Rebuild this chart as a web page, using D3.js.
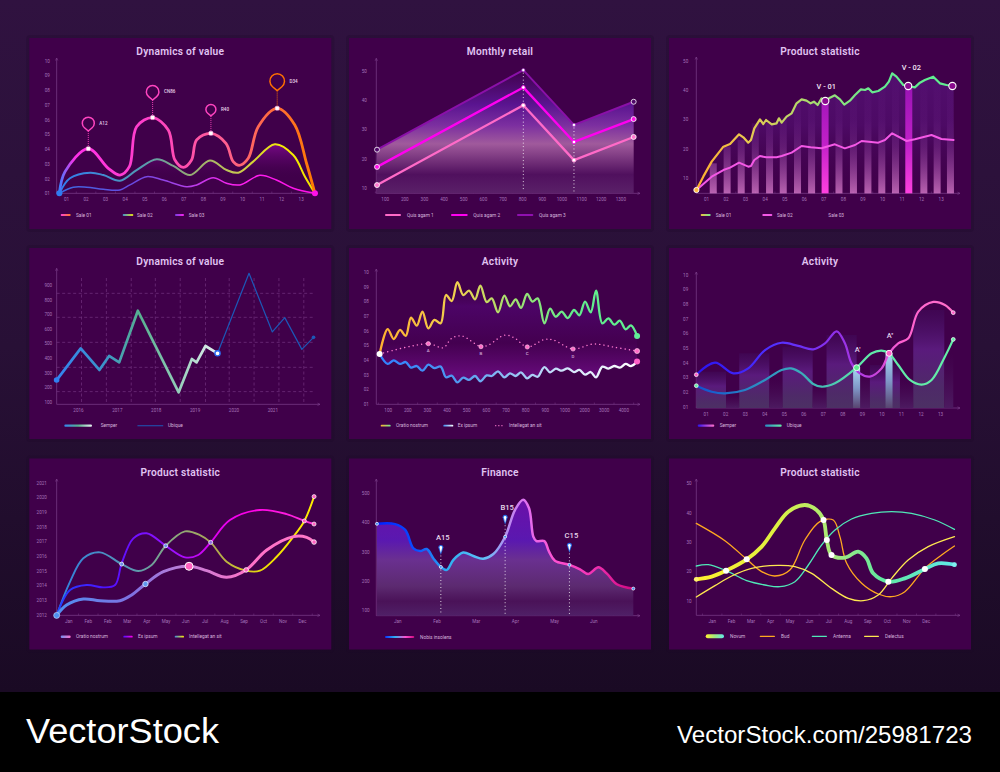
<!DOCTYPE html>
<html>
<head>
<meta charset="utf-8">
<title>Chart set</title>
<script src="https://d3js.org/d3.v7.min.js"></script>
<style>
  html, body { margin: 0; padding: 0; background: #000; }
  svg { display: block; }
</style>
</head>
<body>
<script>
// ---- data ----
const twoDigit = ['01','02','03','04','05','06','07','08','09','10','11','12','13'];

// Dynamics of value (curves)
const a1x = [0.66,0.95,2.14,3.16,3.76,4.24,4.61,5.43,6.23,6.57,7,7.42,7.68,8.41,9.18,9.55,9.86,10.32,10.83,11.8,12.7,13.3,13.73];
const a1y = [1,2.47,4.03,2.7,2.24,2.81,5.52,6.14,5.3,3.26,2.76,3.26,4.62,5.07,4.39,3.15,2.9,3.38,5.52,6.77,5.64,3.04,1];
const a2x = [0.66,1.2,2.23,2.91,3.76,4.61,5.64,6.49,7.34,8.36,9.21,9.81,10.57,11.68,12.62,13.22,13.73];
const a2y = [1,2.02,2.4,2.24,1.86,2.58,3.31,2.86,2.24,3.22,2.58,2.4,3.15,4.33,3.6,2.13,1];
const a3x = [0.66,1.37,2.06,2.91,3.76,4.27,5.12,5.97,7.17,7.68,8.53,9.21,9.89,10.91,11.76,12.62,13.73];
const a3y = [1,1.41,1.41,1.27,1.23,1.57,2.13,1.9,1.45,1.57,2.06,1.68,1.57,2.22,1.9,1.34,1];
const aPinIndex = [2,7,13,19];
const aPinTip = [5.23,7.33,6.25,7.97];
const aPinLabels = ['A12','CN86','R40','D34'];

// Monthly retail
const bTicks = [100,200,300,400,500,600,700,800,900,1000,1100,1200,1300];
const bx = [61,806,1064,1368];
const b1 = [11,38.2,19.5,27.4];
const b2 = [17.2,44.3,25.7,33.5];
const b3 = [23.07,50.2,31.5,39.4];

// Product statistic (jagged)
const c1x = [0.51,0.86,1.29,1.89,2.23,2.69,2.91,3.16,3.3,3.47,3.76,3.93,4.07,4.36,4.61,4.73,4.87,5.12,5.38,5.63,5.89,6.14,6.35,6.52,6.71,6.91,7.1,7.34,7.59,7.85,8.07,8.36,8.62,8.92,9.13,9.3,9.5,9.81,10.15,10.35,10.52,10.74,11.09,11.34,11.68,11.94,12.19,12.62,12.96,13.3,13.66];
const c1y = [6.03,10.57,15.67,20.76,21.67,24.96,23.94,22.12,23.03,27,30.06,28.47,29.83,28.36,28.7,30.4,28.92,30.96,32.1,35.5,36.86,36.4,35.5,36.06,34.93,37.2,36.29,37.42,38.22,36.86,35.04,36.4,38.33,40.25,40.03,40.6,39.24,39.69,41.16,42.86,45.69,44.56,41.73,41.39,40.93,42.52,43.43,44.56,42.3,41.73,41.39];
const c2x = [0.51,1.29,1.89,2.23,2.69,3.16,3.3,3.47,3.76,4.07,4.61,4.87,5.38,5.89,6.35,6.91,7.59,8.1,8.62,8.96,9.81,10.15,10.52,11.26,11.68,12.53,13.04,13.66];
const c2y = [6.03,10.57,12.83,13.63,15.33,13.97,14.19,16.23,17.59,17.14,17.14,17.59,18.73,20.99,20.54,20.2,21.56,20.2,21.33,22.69,22.12,23.03,25.3,22.69,23.26,24.73,23.37,23.03];
const cBarX = [1.37,2.08,2.8,3.52,4.25,4.95,5.68,6.4,7.09,7.8,8.54,9.28,9.99,10.69,11.37,12.14,12.82,13.5];
const cBarTop = [15.1,20.8,23,28.7,28.7,31,36.6,36,36.6,37.2,37.8,40.3,40,43.4,41.2,43.4,42.3,41.7];
const cHighlight = [8,14];

// Dynamics of value (lines)
const dYears = [2016,2017,2018,2019,2020,2021];
const dx1 = [2015.45,2016.07,2016.55,2016.8,2017.06,2017.54,2018.59,2018.93,2019.05,2019.28,2019.59];
const dy1 = [250,467,319,415,371,724,166,394,371,483,433];
const dx2 = [2019.59,2020.4,2021,2021.32,2021.76,2022.06];
const dy2 = [433,980,579,677,460,542];
const dGridX = [2016.09,2016.73,2017.37,2017.99,2018.63,2019.28,2019.89,2020.53,2021.17,2021.81];
const dGridY = [843,679,508,337,171];

// Activity (wiggles)
const eLabels = ['100','200','300','400','500','600','700','800','900','1000','2000','3000','4000'];
const ex = [0.59,1,1.31,1.63,1.92,2.19,2.48,2.77,3.07,3.38,3.7,3.97,4.26,4.55,4.85,5.14,5.45,5.72,6.04,6.3,6.62,6.94,7.23,7.52,7.79,8.1,8.37,8.64,8.98,9.27,9.56,9.86,10.17,10.49,10.76,11.05,11.34,11.61,11.93,12.24,12.54,12.82,13.12,13.39,13.7];
const e1 = [4.41,6.11,5.43,6.05,5.64,6.89,6.34,7.3,6.16,6.73,6.5,8.43,8.02,9.3,8.43,8.73,8.14,9.07,7.95,8.2,7.25,8.39,7.66,8.14,7.55,8.5,7.98,8.2,6.5,7.5,6.95,7.3,6.86,7.41,7.05,7.98,7.25,8.73,6.5,6.84,6.41,6.68,6.09,6.36,5.64];
const e2 = [4.41,3.73,3.98,3.73,3.86,3.48,3.59,3.27,3.68,3.45,3.55,2.82,2.93,2.48,2.8,2.64,2.91,2.55,2.95,2.91,3.23,2.82,3.09,2.91,3.16,2.75,2.98,2.86,3.52,3.16,3.41,3.27,3.43,3.18,3.32,3,3.18,2.82,3.55,3.41,3.59,3.48,3.73,3.59,3.89];
const e3x = [0.59,3.07,3.83,4.26,4.77,5.75,6.13,6.97,7.48,8.11,9.01,9.44,10.44,11.48,12.59,13.7];
const e3y = [4.41,5.11,4.84,5.48,5.64,4.91,5.02,5.7,5.48,4.89,5.41,5.36,4.75,5.09,4.86,4.61];
const eMarkIndex = [1,5,9,12];
const eMarkLabels = ['A','B','C','D'];

// Activity (smooth with columns)
const f1x = [0.52,1.48,2.42,3.18,4.04,4.89,5.74,6.51,7.11,7.71,8.13,8.47,8.9,9.41,10.01,10.39,10.86,11.38,11.89,12.66,13.25,13.68];
const f1y = [3.18,4,3.27,3.61,4.86,5.36,5.14,4.91,5.32,6.14,5.32,3.95,3.27,3.05,3.61,4.64,5.32,5.66,7.48,8.14,7.93,7.41];
const f2x = [0.52,1.31,1.99,3.01,4.04,4.89,5.37,5.92,6.51,6.94,7.62,8.73,9.5,10.01,10.39,10.86,11.46,12.06,12.57,13.25,13.68];
const f2y = [2.43,2.02,1.91,2.14,2.82,3.5,3.61,3.27,2.55,2.36,2.59,3.66,4.64,4.82,4.64,3.84,2.82,2.5,2.82,4.41,5.59];
const fEdges = [0.52,2.04,2.72,4.26,4.94,6.48,7.19,8.73,9.41,10.95,11.63,13.22,13.68];
const fHeights = [3.39,1.8,4.64,2.82,5.09,2.36,5.89,3.16,3.84,2.82,7.59,4.64];
const fHighX = [8.73,10.39];
const fHighY = [3.66,4.64];
const fHighLabels = ["A'","A''"];
const fHighLabelY = [4.74,5.7];

// Product statistic (three curves)
const gMonths = ['Jan','Feb','Feb','Mar','Apr','May','Jun','Jul','Aug','Sep','Oct','Nov','Dec'];
const gYears = [2012,2013,2014,2015,2016,2017,2018,2019,2020,2021];
const g1x = [0.4,0.91,1.77,2.63,3.65,4.25,4.96,5.88,7.2,8.11,9.13,10.13,11.19,12.56,13.24,13.62];
const g1y = [2011.95,2012.66,2013.07,2012.95,2012.95,2013.34,2014.09,2014.93,2015.3,2015,2014.55,2015.05,2016.41,2017.32,2017.27,2016.95];
const g2x = [0.4,1.09,1.94,2.8,3.4,3.74,4.34,5.02,6,6.99,7.67,8.31,9.3,10.84,12.21,13.12,13.62];
const g2y = [2011.95,2013.68,2014.02,2013.86,2014.02,2015.5,2017.2,2017.55,2016.7,2015.91,2016.07,2016.93,2018.45,2019.14,2018.86,2018.39,2018.18];
const g3x = [0.4,1.09,1.77,2.63,3.74,4.6,5.28,6,6.99,7.76,8.31,9.13,10.13,10.84,11.7,12.56,13.12,13.62];
const g3y = [2011.95,2014.25,2015.84,2016.25,2015.45,2014.98,2015.39,2016.7,2017.68,2017.43,2016.93,2015.61,2015,2015,2015.95,2017.32,2018.39,2020.05];

// Finance
const hMonths = ['Jan','Feb','Mar','Apr','May','Jun'];
const hx = [0.48,0.94,1.2,1.41,1.58,1.75,1.92,2.11,2.26,2.43,2.68,2.94,3.19,3.45,3.75,4,4.21,4.36,4.47,4.55,4.75,4.87,5.02,5.39,5.66,5.87,6.13,6.34,6.6,7.02];
const hy = [395,394,374,311,302,309,277,248,238,272,297,285,276,292,351,442,477,448,351,336,336,300,269,255,240,224,247,226,189,174];
const hPinIndex = [7,14,23];
const hPinLabels = ['A15','B15','C15'];

// Product statistic (four curves)
const iMonths = ['Jan','Feb','Mar','Apr','May','Jun','Jul','Aug','Sep','Oct','Nov','Dec'];
const i1x = [0.21,1,1.74,2.8,3.57,4.25,4.94,5.79,6.39,6.75,6.92,7.16,7.85,8.53,8.96,9.3,10.08,10.93,11.96,12.64,13.48];
const i1y = [17.27,18.18,20.23,24.09,28.41,34.66,40.34,42.61,40.91,37.5,30.68,25.57,24.66,26.7,24.43,19.32,16.48,17.61,20.8,22.73,22.27];
const i2x = [0.21,1.68,2.8,3.57,4.25,5.02,5.79,6.56,7.25,7.59,7.94,8.71,9.56,10.25,10.93,11.96,12.82,13.48];
const i2y = [36.36,30.45,24.09,19.89,18.41,20.45,30.68,36.93,37.5,31.82,22.73,15.91,12.27,11.36,13.07,21.02,25.57,28.64];
const i3x = [0.21,0.83,1.74,2.8,3.74,4.51,5.28,5.97,6.65,7.34,8.19,9.22,10.25,11.27,12.47,13.48];
const i3y = [21.82,22.27,20.23,16.82,15.34,14.77,16.48,22.16,28.98,34.09,37.84,39.77,40.34,39.77,37.5,34.32];
const i4x = [0.21,1.17,2.03,3.05,4.42,5.28,6.14,7.16,8.02,8.79,9.56,10.25,11.1,12.13,13.48];
const i4y = [11.25,15.11,18.41,21.02,22.05,21.59,19.32,14.2,10.8,10,11.93,17.61,23.86,28.41,31.82];
const iMarkIndex = [2,3,9,10,11,16,18];

// ---- drawing helpers ----
const W = 1000, H = 772;
const svg = d3.select('body').append('svg').attr('width', W).attr('height', H).attr('viewBox', `0 0 ${W} ${H}`);
const defs = svg.append('defs');
const uiFont = 'Roboto, sans-serif';
const smooth = d3.curveCatmullRom.alpha(0.5);
let gradCount = 0;

function grad(stops, x1, y1, x2, y2) {
  const id = 'g' + (gradCount++);
  const g = defs.append('linearGradient').attr('id', id)
    .attr('gradientUnits', 'userSpaceOnUse')
    .attr('x1', x1).attr('y1', y1).attr('x2', x2).attr('y2', y2);
  stops.forEach(s => g.append('stop').attr('offset', s[0]).attr('stop-color', s[1]).attr('stop-opacity', s[2] === undefined ? 1 : s[2]));
  return `url(#${id})`;
}

// page background
svg.append('rect').attr('width', W).attr('height', H)
  .attr('fill', grad([[0, '#301240'], [0.5, '#281036'], [1, '#1a0a24']], 0, 0, 0, 692));
svg.append('rect').attr('y', 692).attr('width', W).attr('height', 80).attr('fill', '#000');

function panel(o) {
  const g = svg.append('g');
  g.append('rect').attr('x', o.px - 3).attr('y', o.py - 3).attr('width', 308).attr('height', 197).attr('rx', 4)
    .attr('fill', '#1a0626').attr('opacity', 0.25);
  g.append('rect').attr('x', o.px).attr('y', o.py).attr('width', 302).attr('height', 191).attr('fill', '#40004a');
  g.append('text').attr('x', o.px + 151).attr('y', o.py + 17).attr('text-anchor', 'middle')
    .attr('font-family', uiFont).attr('font-weight', 600).attr('font-size', 10.2).attr('letter-spacing', 0.25)
    .attr('fill', '#e0c4f2').text(o.title);

  const x = d3.scaleLinear().domain(o.xDomain).range(o.xRange);
  const y = d3.scaleLinear().domain(o.yDomain).range(o.yRange);

  // axes
  const axisG = g.append('g');
  const yAxis = axisG.append('g').attr('transform', `translate(${o.labelX},0)`)
    .call(d3.axisLeft(y).tickValues(o.yTicks).tickSize(0).tickPadding(0).tickFormat(o.yFormat || (d => d)));
  yAxis.select('.domain').remove();
  yAxis.selectAll('text').attr('text-anchor', 'middle');
  const xAxis = axisG.append('g').attr('transform', `translate(0,${o.labelY})`)
    .call(d3.axisBottom(x).tickValues(o.xTicks).tickSize(0).tickPadding(0).tickFormat(o.xFormat));
  xAxis.select('.domain').remove();
  axisG.selectAll('text').attr('font-family', uiFont).attr('font-size', 4.6).attr('fill', '#a472b8').attr('dy', '0.32em');

  axisG.append('line').attr('x1', o.axisX).attr('x2', o.axisX).attr('y1', o.axisTop).attr('y2', o.axisY)
    .attr('stroke', '#7c3f8c').attr('stroke-width', 0.7);
  axisG.append('line').attr('x1', o.axisX).attr('x2', o.axisRight).attr('y1', o.axisY).attr('y2', o.axisY)
    .attr('stroke', '#7c3f8c').attr('stroke-width', 0.7);
  axisG.append('path').attr('d', `M${o.axisX - 1.2},${o.axisTop + 2.5}L${o.axisX},${o.axisTop}L${o.axisX + 1.2},${o.axisTop + 2.5}`)
    .attr('fill', 'none').attr('stroke', '#7c3f8c').attr('stroke-width', 0.6);
  axisG.append('path').attr('d', `M${o.axisRight - 2.5},${o.axisY - 1.2}L${o.axisRight},${o.axisY}L${o.axisRight - 2.5},${o.axisY + 1.2}`)
    .attr('fill', 'none').attr('stroke', '#7c3f8c').attr('stroke-width', 0.6);

  // small ticks on the baseline, between the labels
  const minor = g.append('g').attr('transform', `translate(0,${o.axisY})`)
    .call(d3.axisBottom(x).tickValues(o.minorTicks).tickSize(-1.8).tickFormat(''));
  minor.select('.domain').remove();
  minor.selectAll('line').attr('stroke', '#7c3f8c').attr('stroke-width', 0.5);

  const plot = g.append('g');

  function curve(xs, ys, kind) {
    return d3.line().x(d => x(d[0])).y(d => y(d[1])).curve(kind || smooth)(d3.zip(xs, ys));
  }
  function areaTo(xs, ys, base, kind) {
    return d3.area().x(d => x(d[0])).y0(base).y1(d => y(d[1])).curve(kind || smooth)(d3.zip(xs, ys));
  }
  function stroke(d, color, width) {
    return plot.append('path').attr('d', d).attr('fill', 'none').attr('stroke', color)
      .attr('stroke-width', width).attr('stroke-linecap', 'round').attr('stroke-linejoin', 'round');
  }
  function dot(cx, cy, r, fill, ring, ringWidth) {
    return plot.append('circle').attr('cx', x(cx)).attr('cy', y(cy)).attr('r', r)
      .attr('fill', fill).attr('stroke', ring || 'none').attr('stroke-width', ringWidth || 0);
  }
  function dotted(cx, fromY, toY) {
    return plot.append('line').attr('x1', x(cx)).attr('x2', x(cx)).attr('y1', fromY).attr('y2', toY)
      .attr('stroke', '#fff').attr('stroke-width', 0.9).attr('stroke-linecap', 'round').attr('stroke-dasharray', '0.1 3.4');
  }
  function note(tx, ty, text, size, fill, anchor) {
    return plot.append('text').attr('x', tx).attr('y', ty).attr('text-anchor', anchor || 'middle')
      .attr('font-family', uiFont).attr('font-size', size).attr('font-weight', 500)
      .attr('fill', fill || '#ecd8f0').text(text);
  }
  function legend(ly, items) {
    items.forEach(it => {
      if (it.dots) {
        g.append('line').attr('x1', it.x1).attr('x2', it.x2).attr('y1', ly).attr('y2', ly)
          .attr('stroke', it.color).attr('stroke-width', 1.2).attr('stroke-linecap', 'round').attr('stroke-dasharray', '0.1 3');
      } else if (it.x1 !== undefined) {
        const paint = it.stops ? grad(it.stops, it.x1, 0, it.x2, 0) : it.color;
        g.append('rect').attr('x', it.x1).attr('y', ly - (it.w || 1.8) / 2).attr('width', it.x2 - it.x1).attr('height', it.w || 1.8)
          .attr('rx', (it.w || 1.8) / 2).attr('fill', paint);
      }
      g.append('text').attr('x', it.tx).attr('y', ly + 1.6).attr('font-family', uiFont).attr('font-size', 4.8)
        .attr('fill', '#d6b4dc').text(it.label);
    });
  }
  return { g, plot, x, y, curve, areaTo, stroke, dot, dotted, note, legend };
}

const halfTicks = (a, b) => d3.range(a, b + 0.1, 1);

// ---- 1. Dynamics of value ----
(function () {
  const p = panel({ px: 29.3, py: 38, title: 'Dynamics of value',
    xDomain: [1, 13], xRange: [66, 300.67], yDomain: [1, 10], yRange: [193.33, 60.67],
    xTicks: d3.range(1, 14), xFormat: (d, i) => twoDigit[i], minorTicks: halfTicks(0.5, 13.5),
    yTicks: d3.range(1, 11), yFormat: d => (d < 10 ? '0' + d : d),
    labelX: 47.3, labelY: 200, axisX: 56.67, axisY: 193.33, axisTop: 58, axisRight: 315 });
  const xa = p.x(0.66), xb = p.x(13.73);
  p.plot.append('path').attr('d', p.areaTo(a2x, a2y, p.y(1)))
    .attr('fill', grad([[0, '#7d0a8c', 0.95], [0.55, '#5a0468', 0.5], [1, '#40004a', 0]], 0, p.y(4.4), 0, p.y(2)));
  p.stroke(p.curve(a3x, a3y), grad([[0, '#3a6ae0'], [0.3, '#6a48e0'], [0.5, '#b040e8'], [0.7, '#ff20f0'], [1, '#ff10e8']], xa, 0, xb, 0), 1.5);
  p.stroke(p.curve(a2x, a2y), grad([[0, '#2f7bf0'], [0.3, '#4f98b8'], [0.5, '#90a878'], [0.7, '#c8c850'], [0.88, '#f6ee00'], [1, '#f0e000']], xa, 0, xb, 0), 2);
  p.stroke(p.curve(a1x, a1y), grad([[0, '#3f7bff'], [0.06, '#ff30e8'], [0.35, '#ff40c8'], [0.65, '#ff5f90'], [0.82, '#ff6a40'], [1, '#ff7a00']], xa, 0, xb, 0), 2.8);
  p.dot(0.66, 1, 3, '#2f7bf0');
  p.dot(13.73, 1, 3, '#ff10e8');
  const radii = [6, 6.3, 5, 7.3];
  aPinIndex.forEach((k, i) => {
    const cx = p.x(a1x[k]), tip = p.y(aPinTip[i]), r = radii[i];
    const color = i === 3 ? '#ff7000' : '#ff44c0';
    const cy = tip - r * 1.3;
    const a = Math.acos(r / (r * 1.3));
    const dx = r * Math.sin(a), dy = r * Math.cos(a);
    p.plot.append('path').attr('d', `M${cx},${tip}L${cx - dx},${cy + dy}A${r},${r} 0 1 1 ${cx + dx},${cy + dy}Z`)
      .attr('fill', 'none').attr('stroke', color).attr('stroke-width', 1.5).attr('stroke-linejoin', 'round');
    p.plot.append('line').attr('x1', cx).attr('x2', cx).attr('y1', tip).attr('y2', p.y(a1y[k]))
      .attr('stroke', color).attr('stroke-width', 0.9).attr('stroke-dasharray', '1 1');
    p.plot.append('rect').attr('x', cx - 2).attr('y', p.y(a1y[k]) - 2).attr('width', 4).attr('height', 4).attr('rx', 1)
      .attr('fill', '#fff').attr('stroke', '#ff9ad8').attr('stroke-width', 0.5);
    p.note(cx + r + 5, cy + 1.6, aPinLabels[i], 4.6, '#e6cfe8', 'start');
  });
  p.legend(215, [
    { x1: 60.7, x2: 70.7, stops: [[0, '#ff40d8'], [1, '#ff7a20']], tx: 76, label: 'Sale 01' },
    { x1: 122.7, x2: 133.3, stops: [[0, '#3f8fd0'], [1, '#e8e010']], tx: 137, label: 'Sale 02' },
    { x1: 175, x2: 184, stops: [[0, '#7040e0'], [1, '#ff20f0']], tx: 188.7, label: 'Sale 03' }
  ]);
})();

// ---- 2. Monthly retail ----
(function () {
  const p = panel({ px: 349, py: 38, title: 'Monthly retail',
    xDomain: [100, 1300], xRange: [384.67, 620.33], yDomain: [10, 50], yRange: [188, 70.67],
    xTicks: bTicks, xFormat: d => d, minorTicks: d3.range(50, 1400, 100),
    yTicks: [10, 20, 30, 40, 50],
    labelX: 364.3, labelY: 200, axisX: 376.3, axisY: 193.33, axisTop: 58.3, axisRight: 640 });
  p.plot.append('path').attr('d', p.areaTo(bx, b3, 193.33, d3.curveLinear))
    .attr('fill', grad([[0, '#40004a'], [0.28, '#5a1490'], [0.45, '#7c2fa0'], [0.6, '#a05a9c'], [0.85, '#50105e'], [1, '#5a2068']], 0, 70, 0, 193));
  p.stroke(p.curve(bx, b3, d3.curveLinear), '#8a10a8', 2);
  p.stroke(p.curve(bx, b1, d3.curveLinear), '#ff6ac8', 2.3);
  p.stroke(p.curve(bx, b2, d3.curveLinear), '#ff00f0', 2.3);
  p.dotted(806, p.y(50.2) + 3, 192);
  p.dotted(1064, p.y(31.5) + 3, 192);
  p.dot(61, b3[0], 2.5, '#50086a', '#fff', 0.8);
  p.dot(1368, b3[3], 2.5, '#50086a', '#fff', 0.8);
  p.dot(61, b2[0], 2.5, '#ff10e8', '#fff', 0.8);
  p.dot(1368, b2[3], 2.5, '#ff10e8', '#fff', 0.8);
  p.dot(61, b1[0], 2.5, '#ff78d0', '#fff', 0.8);
  p.dot(1368, b1[3], 2.5, '#ff78d0', '#fff', 0.8);
  [1, 2].forEach(k => {
    p.dot(bx[k], b3[k], 1.6, '#fff', '#9a20c0', 0.6);
    p.dot(bx[k], b2[k], 1.8, '#fff', '#ff00f0', 0.8);
    p.dot(bx[k], b1[k], 1.9, '#fff', '#ff88d4', 0.9);
  });
  p.legend(215, [
    { x1: 385, x2: 401, color: '#ff6ac8', tx: 407, label: 'Quis agam 1' },
    { x1: 451, x2: 467.7, color: '#ff00f0', tx: 473.3, label: 'Quis agam 2' },
    { x1: 517, x2: 533.3, color: '#9010b0', tx: 539, label: 'Quis agam 3' }
  ]);
})();

// ---- 3. Product statistic ----
(function () {
  const p = panel({ px: 669, py: 38, title: 'Product statistic',
    xDomain: [1, 13], xRange: [706, 940.67], yDomain: [10, 50], yRange: [178.33, 60.67],
    xTicks: d3.range(1, 14), xFormat: (d, i) => twoDigit[i], minorTicks: halfTicks(0.5, 13.5),
    yTicks: [10, 20, 30, 40, 50],
    labelX: 685.7, labelY: 200, axisX: 696.3, axisY: 193.33, axisTop: 57, axisRight: 960 });
  const base = 193.33;
  p.plot.append('path').attr('d', p.areaTo(c1x, c1y, base, d3.curveLinear))
    .attr('fill', grad([[0, '#5e1888', 0.6], [0.45, '#5a1480', 0.5], [1, '#40004a', 0.1]], 0, 70, 0, base));
  const barGrad = grad([[0, '#8a3aa8', 0], [0.4, '#8a3aa8', 0.1], [0.62, '#a04cb0', 0.3], [1, '#e888d8', 0.72]], 0, 70, 0, base);
  const hiGrad = grad([[0, '#9010b0'], [0.6, '#c020c8'], [1, '#ff40e0']], 0, 70, 0, base);
  p.plot.selectAll('rect.bar').data(cBarX).enter().append('rect').attr('class', 'bar')
    .attr('x', d => p.x(d) - 3.5).attr('width', 7)
    .attr('y', (d, i) => p.y(cBarTop[i])).attr('height', (d, i) => base - p.y(cBarTop[i]))
    .attr('fill', (d, i) => cHighlight.includes(i) ? hiGrad : barGrad);
  p.stroke(p.curve(c2x, c2y, d3.curveLinear), '#f458e6', 2);
  p.stroke(p.curve(c1x, c1y, d3.curveLinear), grad([[0, '#ffb030'], [0.2, '#e8c850'], [0.45, '#a8dc70'], [0.7, '#64ea90'], [1, '#60ee90']], p.x(0.51), 0, p.x(13.66), 0), 2.2);
  p.dot(0.51, 6.03, 2.6, '#ffb840', '#fff', 0.9);
  p.dot(c1x[26], c1y[26], 3.6, '#8a0a8e', '#fff', 1.1);
  p.dot(11.34, 41.39, 3.6, '#8a0a8e', '#fff', 1.1);
  p.dot(13.6, 41.39, 3.6, '#8a0a8e', '#fff', 1.1);
  p.note(p.x(7.1) + 1, 89, 'V - 01', 7.4, '#f2e4f4');
  p.note(p.x(11.5), 70, 'V - 02', 7.4, '#f2e4f4');
  p.legend(215, [
    { x1: 700.7, x2: 710.7, stops: [[0, '#f0c040'], [1, '#70e890']], tx: 715.7, label: 'Sale 01' },
    { x1: 762.3, x2: 772.3, color: '#f458e6', tx: 777, label: 'Sale 02' },
    { tx: 828.3, label: 'Sale 03' }
  ]);
})();

// ---- 4. Dynamics of value (lines) ----
(function () {
  const p = panel({ px: 29.3, py: 248, title: 'Dynamics of value',
    xDomain: [2016, 2021], xRange: [78, 272.33], yDomain: [100, 900], yRange: [402, 285],
    xTicks: dYears, xFormat: d => d, minorTicks: [],
    yTicks: d3.range(100, 901, 100),
    labelX: 48.3, labelY: 410.7, axisX: 56.67, axisY: 404.33, axisTop: 268.3, axisRight: 320 });
  const dash = g => g.attr('stroke', '#7c3a8a').attr('stroke-width', 0.6).attr('stroke-dasharray', '3 2.5');
  p.plot.selectAll('line.gx').data(dGridX).enter().append('line').attr('class', 'gx')
    .attr('x1', d => p.x(d)).attr('x2', d => p.x(d)).attr('y1', 278).attr('y2', 404.33).call(dash);
  p.plot.selectAll('line.gy').data(dGridY).enter().append('line').attr('class', 'gy')
    .attr('x1', 56.67).attr('x2', 315).attr('y1', d => p.y(d)).attr('y2', d => p.y(d)).call(dash);
  p.stroke(p.curve(dx2, dy2, d3.curveLinear), '#1c58b8', 1.2);
  p.stroke(p.curve(dx1, dy1, d3.curveLinear), grad([[0, '#3484f0'], [0.3, '#3c94c8'], [0.52, '#58b090'], [0.75, '#92ccb8'], [1, '#e8f2f2']], p.x(dx1[0]), 0, p.x(2019.59), 0), 2.7);
  p.dot(dx1[0], dy1[0], 2.8, '#3080f0');
  p.dot(2019.59, 433, 2.6, '#fff', '#2a68f0', 1.4);
  p.dot(2022.06, 542, 1.8, '#1c58b8');
  p.legend(425.7, [
    { x1: 64.3, x2: 92, w: 2.2, stops: [[0, '#3484f0'], [0.5, '#58b090'], [1, '#e8f2f2']], tx: 100.7, label: 'Semper' },
    { x1: 137.3, x2: 163.3, w: 1, color: '#1c58b8', tx: 168, label: 'Ubique' }
  ]);
})();

// ---- 5. Activity ----
(function () {
  const p = panel({ px: 349, py: 248, title: 'Activity',
    xDomain: [1, 13], xRange: [387.67, 623.33], yDomain: [1, 10], yRange: [404, 272],
    xTicks: d3.range(1, 14), xFormat: (d, i) => eLabels[i], minorTicks: halfTicks(0.5, 13.5),
    yTicks: d3.range(1, 11), yFormat: d => (d < 10 ? '0' + d : d),
    labelX: 366.3, labelY: 410.7, axisX: 376.3, axisY: 404.33, axisTop: 269, axisRight: 640 });
  const band = d3.area().x(d => p.x(d[0])).y0(d => p.y(d[2])).y1(d => p.y(d[1])).curve(smooth)(d3.zip(ex, e1, e2));
  p.plot.append('path').attr('d', band)
    .attr('fill', grad([[0, '#40004a', 0], [0.25, '#4c0466'], [0.6, '#440050'], [0.9, '#640a78'], [1, '#560668']], 0, 280, 0, 385));
  const xa = p.x(0.59), xb = p.x(13.7);
  p.stroke(p.curve(e3x, e3y), '#ff7ad0', 1.4).attr('stroke-dasharray', '0.1 4.2');
  p.stroke(p.curve(ex, e2), grad([[0, '#2f80ff'], [0.3, '#4f98f0'], [0.5, '#90c0f4'], [0.75, '#d8e8fc'], [1, '#ffffff']], xa, 0, xb, 0), 2.3);
  p.stroke(p.curve(ex, e1), grad([[0, '#ffb030'], [0.3, '#f0d050'], [0.5, '#a8e070'], [0.75, '#62ec8c'], [1, '#60ee90']], xa, 0, xb, 0), 2.3);
  p.dot(ex[0], e1[0], 3, '#fff');
  p.dot(ex[44], e1[44], 3, '#62ee98');
  p.dot(ex[44], e2[44], 3, '#ff60c8');
  eMarkIndex.forEach((k, i) => {
    p.dot(e3x[k], e3y[k], 2.1, '#ff6cc8', '#ffd0ec', 0.6);
    p.note(p.x(e3x[k]), p.y(e3y[k]) + 8.5, eMarkLabels[i], 4.4, '#d0a8d8');
  });
  p.dot(e3x[15], e3y[15], 2.5, '#ff6cc8', '#ffd0ec', 0.7);
  p.legend(425.7, [
    { x1: 380.7, x2: 390.7, stops: [[0, '#ffb030'], [1, '#70e890']], tx: 396, label: 'Oratio nostrum' },
    { x1: 443.3, x2: 453.3, stops: [[0, '#3f8af0'], [1, '#ffffff']], tx: 457.7, label: 'Ex ipsum' },
    { x1: 495.7, x2: 502, dots: true, color: '#ff7ad0', tx: 509, label: 'Intellegat an sit' }
  ]);
})();

// ---- 6. Activity (columns) ----
(function () {
  const p = panel({ px: 669, py: 248, title: 'Activity',
    xDomain: [1, 13], xRange: [705.67, 940], yDomain: [1, 10], yRange: [406.67, 274.67],
    xTicks: d3.range(1, 14), xFormat: (d, i) => twoDigit[i], minorTicks: halfTicks(0.5, 13.5),
    yTicks: d3.range(1, 11), yFormat: d => (d < 10 ? '0' + d : d),
    labelX: 685.7, labelY: 414.7, axisX: 696.3, axisY: 408, axisTop: 272, axisRight: 960 });
  const base = 408;
  const tall = defs.append('linearGradient').attr('id', 'fTall').attr('x1', 0).attr('y1', 0).attr('x2', 0).attr('y2', 1);
  [[0, '#400a58', 0.6], [0.4, '#5a1a7c', 1], [0.8, '#4e2a68', 1], [1, '#4c3064', 1]].forEach(s =>
    tall.append('stop').attr('offset', s[0]).attr('stop-color', s[1]).attr('stop-opacity', s[2]));
  const low = defs.append('linearGradient').attr('id', 'fLow').attr('x1', 0).attr('y1', 0).attr('x2', 0).attr('y2', 1);
  [[0, '#40004a', 0.6], [1, '#4c1a60', 1]].forEach(s =>
    low.append('stop').attr('offset', s[0]).attr('stop-color', s[1]).attr('stop-opacity', s[2]));
  p.plot.selectAll('rect.col').data(fHeights).enter().append('rect').attr('class', 'col')
    .attr('x', (d, i) => p.x(fEdges[i])).attr('width', (d, i) => p.x(fEdges[i + 1]) - p.x(fEdges[i]))
    .attr('y', d => p.y(d)).attr('height', d => base - p.y(d))
    .attr('fill', (d, i) => i % 2 === 0 ? 'url(#fTall)' : 'url(#fLow)');
  const hi = defs.append('linearGradient').attr('id', 'fHi').attr('x1', 0).attr('y1', 0).attr('x2', 0).attr('y2', 1);
  [[0, '#a8d8f4'], [0.5, '#8098c8'], [1, '#584470']].forEach(s => hi.append('stop').attr('offset', s[0]).attr('stop-color', s[1]));
  p.plot.selectAll('rect.hi').data(fHighX).enter().append('rect').attr('class', 'hi')
    .attr('x', d => p.x(d) - 3.5).attr('width', 7)
    .attr('y', (d, i) => p.y(fHighY[i])).attr('height', (d, i) => base - p.y(fHighY[i]))
    .attr('fill', 'url(#fHi)');
  const xa = p.x(0.52), xb = p.x(13.68);
  p.stroke(p.curve(f2x, f2y), grad([[0, '#1050d0'], [0.22, '#2a88c4'], [0.45, '#3fb4b8'], [0.65, '#60e8a8'], [1, '#64eea8']], xa, 0, xb, 0), 2.2);
  p.stroke(p.curve(f1x, f1y), grad([[0, '#2a14f0'], [0.3, '#5030ff'], [0.55, '#9030e8'], [0.68, '#c040e0'], [0.8, '#ff60d0'], [1, '#ff70c8']], xa, 0, xb, 0), 2.2);
  p.dot(f1x[0], f1y[0], 1.9, '#ff60c8', '#fff', 0.7);
  p.dot(f2x[0], f2y[0], 1.9, '#64eea8', '#fff', 0.7);
  p.dot(13.68, 7.41, 1.9, '#ff60c8', '#fff', 0.7);
  p.dot(13.68, 5.59, 1.9, '#64eea8', '#fff', 0.7);
  p.dot(fHighX[0], fHighY[0], 3, '#60ee90', '#fff', 0.9);
  p.dot(fHighX[1], fHighY[1], 3, '#ff60c8', '#fff', 0.9);
  fHighX.forEach((d, i) => p.note(p.x(d) + 1, p.y(fHighLabelY[i]), fHighLabels[i], 7.4, '#e0cfe8'));
  p.legend(425.7, [
    { x1: 697.7, x2: 714.3, stops: [[0, '#2a14f0'], [0.5, '#a040e0'], [1, '#ff70c8']], w: 2.2, tx: 719.7, label: 'Semper' },
    { x1: 765, x2: 781.7, stops: [[0, '#2a88c4'], [1, '#64eea8']], w: 2.2, tx: 786.7, label: 'Ubique' }
  ]);
})();

// ---- 7. Product statistic (curves) ----
(function () {
  const p = panel({ px: 29.3, py: 458.5, title: 'Product statistic',
    xDomain: [1, 13], xRange: [68.33, 302], yDomain: [2012, 2021], yRange: [614.67, 482.67],
    xTicks: d3.range(1, 14), xFormat: (d, i) => gMonths[i], minorTicks: halfTicks(0.5, 13.5),
    yTicks: gYears,
    labelX: 41.7, labelY: 622, axisX: 56.67, axisY: 615.33, axisTop: 479, axisRight: 320 });
  const xa = p.x(0.4), xb = p.x(13.62);
  p.stroke(p.curve(g3x, g3y), grad([[0, '#2f80e0'], [0.3, '#5a98b0'], [0.45, '#88a880'], [0.62, '#b0a850'], [0.82, '#f0e000'], [1, '#ffee00']], xa, 0, xb, 0), 1.9);
  p.stroke(p.curve(g2x, g2y), grad([[0, '#2040ff'], [0.2, '#5010ff'], [0.45, '#9a10ff'], [0.62, '#e000f0'], [0.75, '#ff00e8'], [1, '#ff30d8']], xa, 0, xb, 0), 1.9);
  p.stroke(p.curve(g1x, g1y), grad([[0, '#4f90f0'], [0.3, '#8070e0'], [0.5, '#c080d8'], [0.75, '#ff70c8'], [1, '#ff78c8']], xa, 0, xb, 0), 3);
  p.dot(0.4, 2011.95, 3, '#4f90f0', '#cfe0ff', 0.6);
  p.dot(4.96, 2014.09, 2.7, '#5f98f0', '#dde8ff', 0.8);
  p.dot(7.2, 2015.3, 4, '#ff60c0', '#fff', 1);
  p.dot(10.13, 2015.05, 2.3, '#ff60c0', '#fff', 0.8);
  p.dot(13.62, 2016.95, 2.3, '#ff60c0', '#fff', 0.8);
  p.dot(3.74, 2015.45, 2, '#6f90e8', '#fff', 0.7);
  p.dot(6, 2016.7, 2, '#6f90e8', '#fff', 0.7);
  p.dot(8.31, 2016.93, 2, '#9070e0', '#fff', 0.7);
  p.dot(13.12, 2018.39, 2, '#ff60c0', '#fff', 0.7);
  p.dot(13.62, 2018.18, 2, '#ff60c0', '#fff', 0.7);
  p.dot(13.62, 2020.05, 2, '#ff60c0', '#fff', 0.7);
  p.legend(636.7, [
    { x1: 60.7, x2: 70.7, w: 2.4, stops: [[0, '#6f90f0'], [1, '#ff70c8']], tx: 76, label: 'Oratio nostrum' },
    { x1: 123.3, x2: 132.7, stops: [[0, '#5010ff'], [1, '#ff00e8']], tx: 138, label: 'Ex ipsum' },
    { x1: 174.7, x2: 184, stops: [[0, '#3f8ae0'], [1, '#ffee00']], tx: 189, label: 'Intellegat an sit' }
  ]);
})();

// ---- 8. Finance ----
(function () {
  const p = panel({ px: 349, py: 458.5, title: 'Finance',
    xDomain: [1, 6], xRange: [397.33, 593.33], yDomain: [100, 500], yRange: [610.33, 493],
    xTicks: d3.range(1, 7), xFormat: (d, i) => hMonths[i], minorTicks: d3.range(0.5, 7, 0.5),
    yTicks: [100, 200, 300, 400, 500],
    labelX: 365.7, labelY: 622, axisX: 376.3, axisY: 615.67, axisTop: 479, axisRight: 640 });
  p.plot.append('path').attr('d', p.areaTo(hx, hy, 615.67))
    .attr('fill', grad([[0, '#6a10a8'], [0.35, '#5a18b0'], [0.52, '#6a3090'], [0.75, '#5c2a70'], [0.88, '#4a1258'], [1, '#4f1f66']], 0, 500, 0, 615));
  const xa = p.x(0.48), xb = p.x(7.02);
  hPinIndex.forEach(k => p.dotted(hx[k], p.y(hy[k]) - 11, 615));
  p.stroke(p.curve(hx, hy), grad([[0, '#0020ff'], [0.15, '#0a4cff'], [0.28, '#30b0f0'], [0.42, '#60c0f8'], [0.5, '#b090f0'], [0.58, '#e070f0'], [0.7, '#ff50d0'], [0.85, '#f030b0'], [1, '#d00880']], xa, 0, xb, 0), 2.5);
  [0, 7, 14, 23, 29].forEach(k => p.dot(hx[k], hy[k], 1.5, '#3f8af0', '#fff', 0.7));
  hPinIndex.forEach((k, i) => {
    const cx = p.x(hx[k]);
    const tip = p.y(hy[k]) - 12;
    const top = tip - 10.5;
    p.plot.append('path').attr('d', `M${cx},${tip}L${cx - 2.5},${top + 3}A2.5,2.5 0 1 1 ${cx + 2.5},${top + 3}Z`).attr('fill', '#2a70e8');
    p.plot.append('path').attr('d', `M${cx},${tip - 2}L${cx - 1.3},${top + 3}A1.3,1.3 0 1 1 ${cx + 1.3},${top + 3}Z`).attr('fill', '#fff');
    p.note(cx + 2, tip - 14.5, hPinLabels[i], 7.6, '#e8d8ec');
  });
  p.legend(637, [
    { x1: 385, x2: 414.3, w: 2.2, stops: [[0, '#0a30ff'], [0.35, '#30b0f0'], [0.7, '#ff50d0'], [1, '#d00880']], tx: 420, label: 'Nobis insolens' }
  ]);
})();

// ---- 9. Product statistic (four curves) ----
(function () {
  const p = panel({ px: 669, py: 458.5, title: 'Product statistic',
    xDomain: [1, 12], xRange: [711.67, 925.67], yDomain: [10, 50], yRange: [600.67, 483.33],
    xTicks: d3.range(1, 13), xFormat: (d, i) => iMonths[i], minorTicks: halfTicks(0.5, 13.5),
    yTicks: [10, 20, 30, 40, 50],
    labelX: 689, labelY: 622, axisX: 696.3, axisY: 615.33, axisTop: 479, axisRight: 960 });
  p.stroke(p.curve(i2x, i2y), '#ffa820', 1.3);
  p.stroke(p.curve(i3x, i3y), '#50e8b8', 1.3);
  p.stroke(p.curve(i4x, i4y), '#ffe850', 1.3);
  p.stroke(p.curve(i1x, i1y), grad([[0, '#fff030'], [0.3, '#e0f040'], [0.55, '#a0e880'], [0.72, '#60e8a0'], [1, '#60e8e8']], p.x(0.21), 0, p.x(13.48), 0), 3.8);
  p.dot(i1x[0], i1y[0], 2.4, '#fff070');
  p.dot(i1x[20], i1y[20], 2.4, '#80f0f0');
  iMarkIndex.forEach(k => p.dot(i1x[k], i1y[k], 3, '#fff'));
  p.legend(636.3, [
    { x1: 705.7, x2: 724, w: 4, stops: [[0, '#fff030'], [0.5, '#a0e880'], [1, '#60e8e8']], tx: 730, label: 'Novum' },
    { x1: 759.7, x2: 775, w: 1.2, color: '#ffa820', tx: 781, label: 'Bud' },
    { x1: 811.7, x2: 827, w: 1.2, color: '#50e8b8', tx: 833, label: 'Antenna' },
    { x1: 864, x2: 879, w: 1.2, color: '#ffe850', tx: 885, label: 'Delectus' }
  ]);
})();

// ---- footer ----
svg.append('text').attr('x', 26).attr('y', 743).attr('font-family', '"Liberation Sans", sans-serif')
  .attr('font-size', 35).attr('textLength', 193).attr('lengthAdjust', 'spacingAndGlyphs').attr('fill', '#fff').text('VectorStock');
svg.append('text').attr('x', 677).attr('y', 742.7).attr('font-family', '"Liberation Sans", sans-serif')
  .attr('font-size', 24).attr('textLength', 295).attr('lengthAdjust', 'spacingAndGlyphs').attr('fill', '#fff').text('VectorStock.com/25981723');
</script>
</body>
</html>
